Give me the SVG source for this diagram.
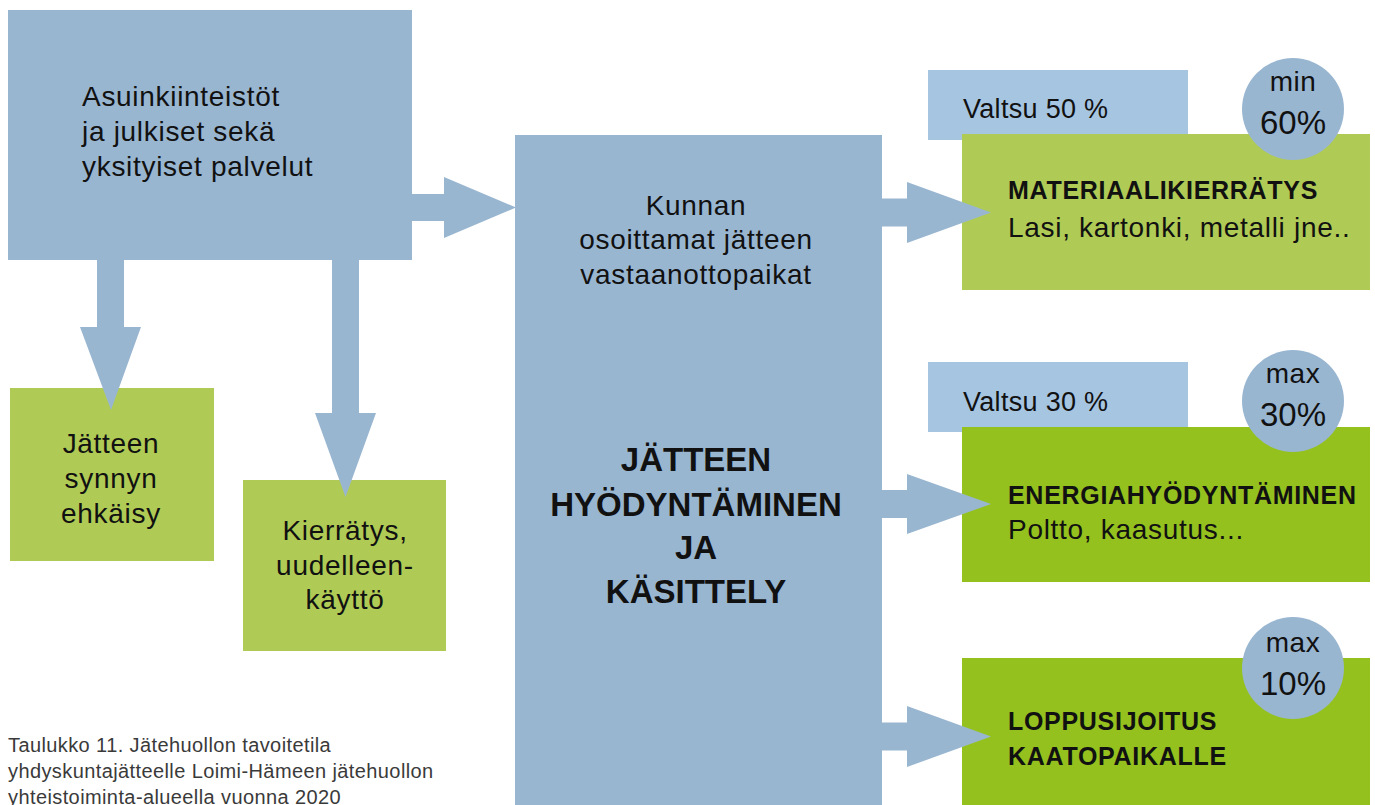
<svg xmlns="http://www.w3.org/2000/svg" width="1375" height="805" viewBox="0 0 1375 805">
<style>
.blue{fill:#99b6d1}
.lblue{fill:#a6c5e1}
.lgreen{fill:#b0cb55}
.dgreen{fill:#95c11f}
.arrow{fill:#99b6d1}
text{font-family:"Liberation Sans",Arial,sans-serif;fill:#111}
.t{font-size:28px;letter-spacing:0.7px}
.c{text-anchor:middle}
.h{font-size:25px;font-weight:bold;letter-spacing:0.7px}
.big{font-size:33px;font-weight:bold;text-anchor:middle}
.v{font-size:27px;letter-spacing:0.3px}
.pct{font-size:33px;text-anchor:middle}
.mm{font-size:28px;text-anchor:middle;letter-spacing:0.5px}
.cap{font-size:20px;letter-spacing:0.4px;fill:#3a3a3a}
</style>
<rect width="1375" height="805" fill="#ffffff"/>

<g id="source">
<rect class="blue" x="8" y="10" width="404" height="250"/>
<text class="t" x="82" y="106">Asuinkiinteistöt</text>
<text class="t" x="82" y="141">ja julkiset sekä</text>
<text class="t" x="82" y="176">yksityiset palvelut</text>
</g>

<g id="prevention">
<rect class="lgreen" x="10" y="388" width="204" height="173"/>
<text class="t c" x="111" y="453">Jätteen</text>
<text class="t c" x="111" y="488">synnyn</text>
<text class="t c" x="111" y="523">ehkäisy</text>
</g>

<g id="reuse">
<rect class="lgreen" x="243" y="480" width="203" height="171"/>
<text class="t c" x="345" y="540">Kierrätys,</text>
<text class="t c" x="345" y="575">uudelleen-</text>
<text class="t c" x="345" y="609">käyttö</text>
</g>

<g id="center">
<rect class="blue" x="515" y="135" width="367" height="670"/>
<text class="t c" x="696" y="215">Kunnan</text>
<text class="t c" x="696" y="249">osoittamat jätteen</text>
<text class="t c" x="696" y="284">vastaanottopaikat</text>
<text class="big" x="696" y="471">JÄTTEEN</text>
<text class="big" x="696" y="516">HYÖDYNTÄMINEN</text>
<text class="big" x="696" y="559">JA</text>
<text class="big" x="696" y="603">KÄSITTELY</text>
</g>

<g id="material">
<rect class="lblue" x="928" y="70" width="260" height="70"/>
<text class="v" x="963" y="118">Valtsu 50 %</text>
<rect class="lgreen" x="962" y="134" width="408" height="156"/>
<text class="h" x="1008" y="199">MATERIAALIKIERRÄTYS</text>
<text class="t" x="1008" y="237">Lasi, kartonki, metalli jne..</text>
<circle class="blue" cx="1293" cy="109" r="51"/>
<text class="mm" x="1293" y="91">min</text>
<text class="pct" x="1293" y="134">60%</text>
</g>

<g id="energy">
<rect class="lblue" x="928" y="362" width="260" height="70"/>
<text class="v" x="963" y="411">Valtsu 30 %</text>
<rect class="dgreen" x="962" y="427" width="408" height="155"/>
<text class="h" x="1008" y="504">ENERGIAHYÖDYNTÄMINEN</text>
<text class="t" x="1008" y="539">Poltto, kaasutus...</text>
<circle class="blue" cx="1293" cy="401" r="51"/>
<text class="mm" x="1293" y="383">max</text>
<text class="pct" x="1293" y="426">30%</text>
</g>

<g id="landfill">
<rect class="dgreen" x="962" y="658" width="408" height="147"/>
<text class="h" x="1008" y="730">LOPPUSIJOITUS</text>
<text class="h" x="1008" y="765">KAATOPAIKALLE</text>
<circle class="blue" cx="1293" cy="668" r="51"/>
<text class="mm" x="1293" y="652">max</text>
<text class="pct" x="1293" y="695">10%</text>
</g>

<g id="connectors">
<polygon class="arrow" points="412,194 444,194 444,177 516,207.5 444,238 444,221 412,221"/>
<polygon class="arrow" points="97,260 124,260 124,327 141,327 111,410 80,327 97,327"/>
<polygon class="arrow" points="332,260 359,260 359,413 376,413 345.5,497 315,413 332,413"/>
<polygon class="arrow" points="882,198.5 907,198.5 907,182 991,212.5 907,243 907,226.5 882,226.5"/>
<polygon class="arrow" points="882,490 907,490 907,474 991,504 907,534 907,518 882,518"/>
<polygon class="arrow" points="882,722.5 907,722.5 907,706 991,736.5 907,767 907,750.5 882,750.5"/>
</g>

<g id="caption">
<text class="cap" x="8" y="752">Taulukko 11. Jätehuollon tavoitetila</text>
<text class="cap" x="8" y="778">yhdyskuntajätteelle Loimi-Hämeen jätehuollon</text>
<text class="cap" x="8" y="804">yhteistoiminta-alueella vuonna 2020</text>
</g>
</svg>
